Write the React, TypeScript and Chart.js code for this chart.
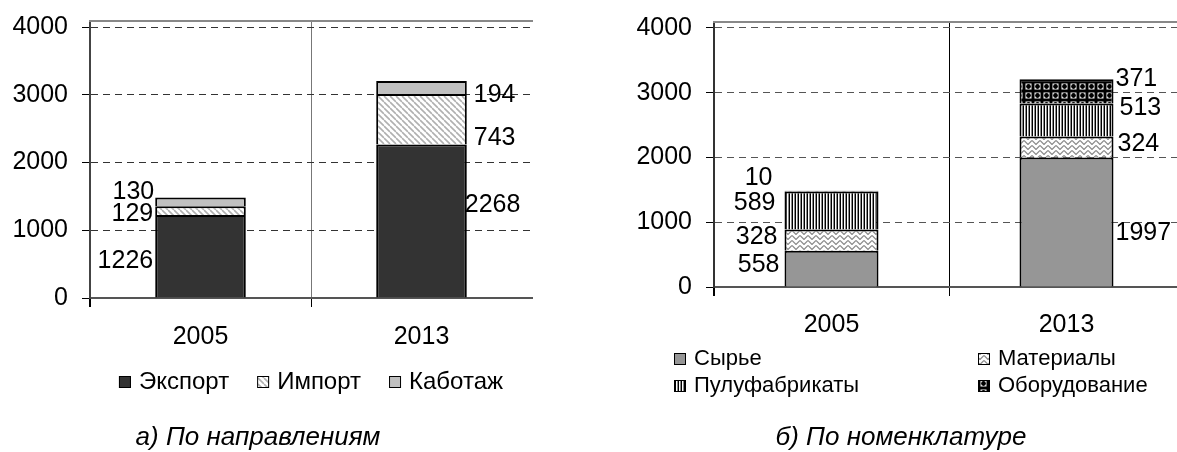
import React, { useEffect, useRef } from "react";
import { Chart, registerables } from "chart.js";

Chart.register(...registerables);

const FONT = '"Liberation Sans", Arial, sans-serif';

const years = ["2005", "2013"];
const yTicks = [0, 1000, 2000, 3000, 4000];

// Chart a) by direction
const dirLabels = ["Экспорт", "Импорт", "Каботаж"];
const exportValues = [1226, 2268];
const importValues = [129, 743];
const cabotageValues = [130, 194];

// Chart б) by nomenclature
const nomLabels = ["Сырье", "Материалы", "Пулуфабрикаты", "Оборудование"];
const rawValues = [558, 1997];
const materialValues = [328, 324];
const semiValues = [589, 513];
const equipValues = [10, 371];

const captionLeft = "а) По направлениям";
const captionRight = "б) По номенклатуре";

const yTop = 4090;

function makePattern(w: number, h: number, draw: (g: CanvasRenderingContext2D) => void) {
  const c = document.createElement("canvas");
  c.width = w;
  c.height = h;
  const g = c.getContext("2d")!;
  draw(g);
  const ctx = document.createElement("canvas").getContext("2d")!;
  return ctx.createPattern(c, "repeat")!;
}

function buildPatterns() {
  const hatch = makePattern(6, 6, (g) => {
    g.fillStyle = "#ffffff";
    g.fillRect(0, 0, 6, 6);
    g.strokeStyle = "#b0b0b0";
    g.lineWidth = 1.6;
    g.beginPath();
    for (const k of [-6, 0, 6]) {
      g.moveTo(0, k);
      g.lineTo(6, 6 + k);
    }
    g.stroke();
  });
  const zigzag = makePattern(8, 5, (g) => {
    g.fillStyle = "#ffffff";
    g.fillRect(0, 0, 8, 5);
    g.strokeStyle = "#8a8a8a";
    g.lineWidth = 1.2;
    g.beginPath();
    g.moveTo(0, 0.5);
    g.lineTo(4, 4.5);
    g.lineTo(8, 0.5);
    g.stroke();
  });
  const vstripes = makePattern(3, 2, (g) => {
    g.fillStyle = "#ffffff";
    g.fillRect(0, 0, 3, 2);
    g.fillStyle = "#000000";
    g.fillRect(0, 0, 1, 2);
    g.fillStyle = "#8a8a8a";
    g.fillRect(2, 0, 1, 2);
  });
  const balls = makePattern(9, 9, (g) => {
    g.fillStyle = "#000000";
    g.fillRect(0, 0, 9, 9);
    g.fillStyle = "#ffffff";
    g.fillRect(2.5, 2.5, 6, 6);
    g.fillStyle = "#000000";
    g.beginPath();
    g.arc(5.5, 5.5, 2.4, 0, Math.PI * 2);
    g.fill();
  });
  return { hatch, zigzag, vstripes, balls };
}

const decor = {
  id: "decor",
  afterDraw(chart: any, _args: any, opts: any) {
    const { ctx, chartArea: ca, scales } = chart;
    ctx.save();
    // top frame line
    ctx.strokeStyle = opts.frameColor;
    ctx.lineWidth = 2;
    ctx.beginPath();
    ctx.moveTo(ca.left - 1, ca.top);
    ctx.lineTo(ca.right + 1, ca.top);
    ctx.stroke();

    // category labels
    ctx.fillStyle = "#000";
    ctx.font = `${opts.tickSize}px ${FONT}`;
    ctx.textAlign = "center";
    ctx.textBaseline = "middle";
    chart.data.labels.forEach((l: string, i: number) => {
      ctx.fillText(l, scales.x.getPixelForValue(i), ca.bottom + opts.xLabelDy);
    });

    // data labels
    ctx.font = `${opts.labelSize}px ${FONT}`;
    chart.data.datasets.forEach((ds: any, di: number) => {
      const meta = chart.getDatasetMeta(di);
      meta.data.forEach((bar: any, i: number) => {
        const p = bar.getProps(["x", "y", "base", "width"], true);
        const [dx, dy] = opts.nudges[di][i];
        const cy = (p.y + p.base) / 2 + dy;
        const text = String(ds.data[i]);
        if (i === 0) {
          ctx.textAlign = "right";
          ctx.fillText(text, p.x - p.width / 2 - 4 + dx, cy);
        } else {
          ctx.textAlign = "left";
          ctx.fillText(text, p.x + p.width / 2 + 4 + dx, cy);
        }
      });
    });

    // legend
    ctx.font = `${opts.legendSize}px ${FONT}`;
    ctx.textAlign = "left";
    const box = opts.box;
    const drawItem = (ds: any, x: number, y: number) => {
      ctx.fillStyle = ds.backgroundColor;
      ctx.fillRect(x, y - box / 2, box, box);
      ctx.strokeStyle = "#000";
      ctx.lineWidth = 1;
      ctx.strokeRect(x + 0.5, y - box / 2 + 0.5, box - 1, box - 1);
      ctx.fillStyle = "#000";
      ctx.fillText(ds.label, x + box + opts.boxGap, y);
    };
    const dss = chart.data.datasets;
    if (opts.legendMode === "row") {
      const widths = dss.map((ds: any) => box + opts.boxGap + ctx.measureText(ds.label).width);
      const total = widths.reduce((a: number, b: number) => a + b, 0) + opts.itemGap * (dss.length - 1);
      let x = (ca.left + ca.right) / 2 - total / 2;
      const y = ca.bottom + opts.legendDy;
      dss.forEach((ds: any, i: number) => {
        drawItem(ds, x, y);
        x += widths[i] + opts.itemGap;
      });
    } else {
      dss.forEach((ds: any, i: number) => {
        const col = i % 2;
        const row = Math.floor(i / 2);
        drawItem(ds, ca.left + opts.colDx[col], ca.bottom + opts.rowDy[row]);
      });
    }

    // caption
    ctx.font = `italic ${opts.captionSize}px ${FONT}`;
    ctx.textAlign = "center";
    ctx.fillStyle = "#000";
    ctx.fillText(opts.caption, ca.left + opts.captionDx, ca.bottom + opts.captionDy);
    ctx.restore();
  },
};

function baseConfig(p: any) {
  return {
    type: "bar",
    data: { labels: years, datasets: p.datasets },
    options: {
      responsive: false,
      animation: false,
      events: [],
      layout: { padding: p.padding },
      datasets: {
        bar: {
          barPercentage: p.barPct,
          categoryPercentage: 1,
          borderColor: "#000",
          borderWidth: 2,
        },
      },
      scales: {
        x: {
          stacked: true,
          afterFit: (s: any) => {
            s.height = p.xHeight;
            s.paddingLeft = 0;
            s.paddingRight = 0;
          },
          ticks: { display: false },
          grid: {
            offset: true,
            color: p.xGridColors,
            lineWidth: p.xGridWidths,
            tickLength: 9,
            tickColor: "#000",
          },
          border: { display: true, color: p.axisColor, width: 2 },
        },
        y: {
          stacked: true,
          min: 0,
          max: yTop,
          afterFit: (s: any) => {
            s.width = p.yWidth;
            s.paddingTop = 0;
            s.paddingBottom = 0;
          },
          afterBuildTicks: (s: any) => {
            s.ticks = yTicks.map((v) => ({ value: v }));
          },
          ticks: {
            padding: 14,
            color: "#000",
            font: { family: FONT, size: 25 },
            callback: (v: number) => String(v),
          },
          grid: {
            color: p.gridColor,
            lineWidth: 1,
            tickLength: 8,
            tickColor: "#000",
            tickBorderDash: [],
          },
          border: { display: true, color: p.yAxisColor, width: 2, dash: [7, 5] },
        },
      },
      plugins: {
        legend: { display: false },
        tooltip: { enabled: false },
        decor: p.decor,
      },
    },
    plugins: [decor],
  };
}

export default function App() {
  const leftRef = useRef<HTMLCanvasElement>(null);
  const rightRef = useRef<HTMLCanvasElement>(null);

  useEffect(() => {
    const pt = buildPatterns();
    const leftCfg: any = baseConfig({
      padding: { left: 0, top: 21, right: 68, bottom: 0 },
      xHeight: 154,
      yWidth: 90,
      barPct: 0.41,
      axisColor: "#555",
      yAxisColor: "#444",
      gridColor: "#333",
      xGridColors: ["#444", "#777", "#999"],
      xGridWidths: [2, 1, 2],
      datasets: [
        { label: dirLabels[0], data: exportValues, backgroundColor: "#333333" },
        { label: dirLabels[1], data: importValues, backgroundColor: pt.hatch },
        { label: dirLabels[2], data: cabotageValues, backgroundColor: "#c0c0c0" },
      ],
      decor: {
        frameColor: "#888",
        tickSize: 25,
        labelSize: 25,
        legendSize: 24,
        captionSize: 26,
        xLabelDy: 39,
        nudges: [
          [[2, 5], [-6, -16]],
          [[2, 4], [3, 19]],
          [[3, -10], [3, 8]],
        ],
        legendMode: "row",
        box: 12,
        boxGap: 8,
        itemGap: 28,
        legendDy: 84,
        caption: captionLeft,
        captionDx: 168,
        captionDy: 140,
      },
    });

    const rightCfg: any = baseConfig({
      padding: { left: 0, top: 22, right: 16, bottom: 0 },
      xHeight: 165,
      yWidth: 114,
      barPct: 0.4,
      axisColor: "#555",
      yAxisColor: "#333",
      gridColor: "#555",
      xGridColors: ["#333", "#000", "#000"],
      xGridWidths: [2, 1, 1],
      datasets: [
        { label: nomLabels[0], data: rawValues, backgroundColor: "#969696" },
        { label: nomLabels[1], data: materialValues, backgroundColor: pt.zigzag },
        { label: nomLabels[2], data: semiValues, backgroundColor: pt.vstripes },
        { label: nomLabels[3], data: equipValues, backgroundColor: pt.balls },
      ],
      decor: {
        frameColor: "#888",
        tickSize: 25,
        labelSize: 25,
        legendSize: 22,
        captionSize: 26,
        xLabelDy: 38,
        nudges: [
          [[-1, -4], [-2, 11]],
          [[-3, -3], [0, -3]],
          [[-5, -7], [2, -12]],
          [[-8, -13], [-2, -12]],
        ],
        legendMode: "grid",
        box: 12,
        boxGap: 8,
        colDx: [-40, 264],
        rowDy: [72, 99],
        caption: captionRight,
        captionDx: 187,
        captionDy: 151,
      },
    });

    const c1 = new Chart(leftRef.current!, leftCfg);
    const c2 = new Chart(rightRef.current!, rightCfg);
    return () => {
      c1.destroy();
      c2.destroy();
    };
  }, []);

  return (
    <div
      style={{
        position: "fixed",
        left: 0,
        top: 0,
        width: 1177,
        height: 452,
        overflow: "hidden",
        background: "#fff",
      }}
    >
      <canvas
        ref={leftRef}
        width={600}
        height={452}
        style={{ position: "absolute", left: 0, top: 0, width: 600, height: 452 }}
      />
      <canvas
        ref={rightRef}
        width={600}
        height={452}
        style={{ position: "absolute", left: 600, top: 0, width: 600, height: 452 }}
      />
    </div>
  );
}
